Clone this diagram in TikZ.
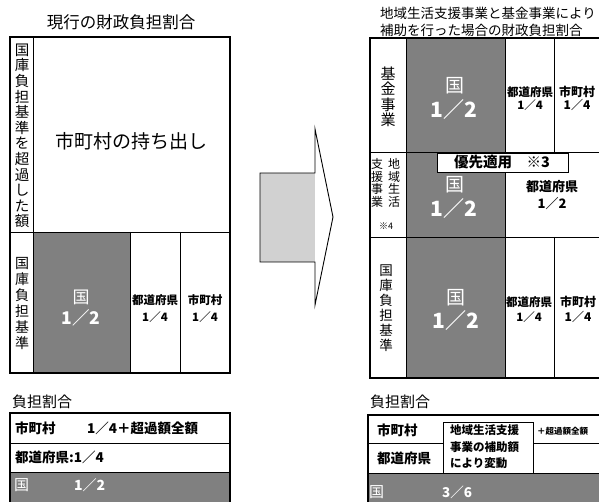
\documentclass[tikz,border=0pt]{standalone}
\usepackage{fontspec}
\setmainfont{Noto Sans CJK JP}
\newcommand{\fs}[2]{\fontsize{#1}{#2}\selectfont}
\tikzset{
  frame/.style={draw=black, line width=1.1pt},
  thin/.style={draw=black, line width=0.9pt},
  darkfill/.style={fill=black!50},
  lightfill/.style={fill=black!18},
  lab/.style={inner sep=0pt, text=black},
  wlab/.style={inner sep=0pt, text=white},
  vlab/.style={inner sep=0pt, align=center, text=black},
}
\begin{document}
\begin{tikzpicture}[x=1pt,y=-1pt]
\useasboundingbox (0,0) rectangle (599,502);
\clip (0,0) rectangle (599,502);
\fill[white] (0,0) rectangle (599,502);

% ================= LEFT =================
\node[lab, font=\fs{16.5}{18}] (ltitle) at (121,22) {現行の財政負担割合};
\fill[darkfill] (33,232) rectangle (130,373);
\draw[frame] (10,37) rectangle (230,373);
\draw[thin] (33,37) -- (33,373);
\draw[thin] (10,232) -- (230,232);
\draw[thin] (130,232) -- (130,373);
\draw[thin] (180,232) -- (180,373);
\node[lab, font=\fs{19}{20}] (lout) at (131,141) {市町村の持ち出し};
\node[vlab, font=\fs{14.5}{15.6}] (lvtop) at (22,136) {国\\庫\\負\\担\\基\\準\\を\\超\\過\\し\\た\\額};
\node[vlab, font=\fs{14}{16}] (lvbot) at (22,304) {国\\庫\\負\\担\\基\\準};
\node[wlab, font=\fs{17}{17}] (lkuni) at (81,297) {国};
\node[wlab, font=\fs{17.5}{18}\bfseries] (lkunir) at (81,318) {1／2};
\node[lab, font=\fs{11.5}{12}\bfseries] (lpref) at (155,300) {都道府県};
\node[lab, font=\fs{11.5}{12}\bfseries] (lprefr) at (155,317) {1／4};
\node[lab, font=\fs{11.5}{12}\bfseries] (lmun) at (205,300) {市町村};
\node[lab, font=\fs{11.5}{12}\bfseries] (lmunr) at (205,317) {1／4};

\node[lab, font=\fs{15}{16}, anchor=west] (lfutan) at (12,402) {負担割合};
\fill[darkfill] (10,472) rectangle (230,510);
\draw[frame] (10,413) rectangle (230,510);
\draw[thin] (10,443) -- (230,443);
\draw[thin] (10,472) -- (230,472);
\node[lab, font=\fs{13.5}{14}\bfseries, anchor=west] (lr1a) at (15,428) {市町村};
\node[lab, font=\fs{13.5}{14}\bfseries, anchor=west] (lr1b) at (87,428) {1／4＋超過額全額};
\node[lab, font=\fs{13.5}{14}\bfseries, anchor=west] (lr2) at (15,457) {都道府県:1／4};
\node[wlab, font=\fs{15}{15}, anchor=west] (lr3a) at (14,485) {国};
\node[wlab, font=\fs{14}{14}\bfseries, anchor=west] (lr3b) at (74,485) {1／2};

% ================= ARROW =================
\fill[lightfill] (260,173) rectangle (315,262);
\draw[thin, line join=miter]
  (260,173) -- (315,173) -- (315,129) -- (333,217) -- (315,305) -- (315,262) -- (260,262) -- cycle;

% ================= RIGHT =================
\node[lab, font=\fs{13.5}{14}, anchor=west] (rtitle1) at (380,13) {地域生活支援事業と基金事業により};
\node[lab, font=\fs{13.5}{14}, anchor=west] (rtitle2) at (380,30) {補助を行った場合の財政負担割合};
\fill[darkfill] (406,38) rectangle (505,378);
\draw[frame] (370,38) rectangle (640,378);
\draw[thin] (406,38) -- (406,378);
\draw[thin] (505,38) -- (505,378);
\draw[thin] (554,38) -- (554,152);
\draw[thin] (554,237) -- (554,378);
\draw[thin] (370,152) -- (640,152);
\draw[thin] (370,237) -- (640,237);

% row 1
\node[vlab, font=\fs{15}{15.5}] (rkikin) at (388,97) {基\\金\\事\\業};
\node[wlab, font=\fs{19}{19}] (rk1) at (455,86) {国};
\node[wlab, font=\fs{21}{21}\bfseries] (rk1r) at (454,110) {1／2};
\node[lab, font=\fs{11.5}{12}\bfseries] (rp1) at (530,92) {都道府県};
\node[lab, font=\fs{11.5}{12}\bfseries] (rp1r) at (530,105) {1／4};
\node[lab, font=\fs{12}{12}\bfseries] (rm1) at (577,92) {市町村};
\node[lab, font=\fs{12}{12}\bfseries] (rm1r) at (577,105) {1／4};

% row 2
\node[vlab, font=\fs{12}{12.5}] (rvs) at (377,183) {支\\援\\事\\業};
\node[vlab, font=\fs{12}{12.5}] (rvc) at (394,183) {地\\域\\生\\活};
\node[lab, font=\fs{9}{9}] (rnote4) at (386,226) {※4};
\node[wlab, font=\fs{19}{19}] (rk2) at (455,185) {国};
\node[wlab, font=\fs{21}{21}\bfseries] (rk2r) at (454,209) {1／2};
\node[lab, font=\fs{13}{13}\bfseries] (rp2) at (552,187) {都道府県};
\node[lab, font=\fs{13}{13}\bfseries] (rp2r) at (552,204) {1／2};
\draw[thin, fill=white] (437,153) rectangle (568,172);
\node[lab, font=\fs{14.5}{15}\bfseries] (rprio) at (502,162.5) {優先適用　※3};

% row 3
\node[vlab, font=\fs{13.5}{15}] (rvkoku) at (386,308) {国\\庫\\負\\担\\基\\準};
\node[wlab, font=\fs{19}{19}] (rk3) at (456,298) {国};
\node[wlab, font=\fs{21}{21}\bfseries] (rk3r) at (456,321) {1／2};
\node[lab, font=\fs{11.5}{12}\bfseries] (rp3) at (529,302) {都道府県};
\node[lab, font=\fs{11.5}{12}\bfseries] (rp3r) at (529,317) {1／4};
\node[lab, font=\fs{12}{12}\bfseries] (rm3) at (578,302) {市町村};
\node[lab, font=\fs{12}{12}\bfseries] (rm3r) at (578,317) {1／4};

% bottom table
\node[lab, font=\fs{15}{16}, anchor=west] (rfutan) at (370,402) {負担割合};
\fill[darkfill] (368,473) rectangle (640,510);
\draw[frame] (368,415) rectangle (640,510);
\draw[thin] (368,443) -- (640,443);
\draw[thin] (368,473) -- (640,473);
\node[lab, font=\fs{13.5}{14}\bfseries, anchor=west] (rt1) at (377,430) {市町村};
\node[lab, font=\fs{13.5}{14}\bfseries, anchor=west] (rt2) at (377,458) {都道府県};
\node[lab, font=\fs{8.5}{9}\bfseries, anchor=west] (rt1b) at (537,431) {＋超過額全額};
\node[wlab, font=\fs{15}{15}, anchor=west] (rt3a) at (369,492) {国};
\node[wlab, font=\fs{13.5}{14}\bfseries, anchor=west] (rt3b) at (442,492) {3／6};
\draw[thin, fill=white] (443,422) rectangle (533,473);
\node[lab, font=\fs{11.5}{16.5}\bfseries, align=left, anchor=west] (rcall) at (450,447) {地域生活支援\\事業の補助額\\により変動};
\end{tikzpicture}
\end{document}
